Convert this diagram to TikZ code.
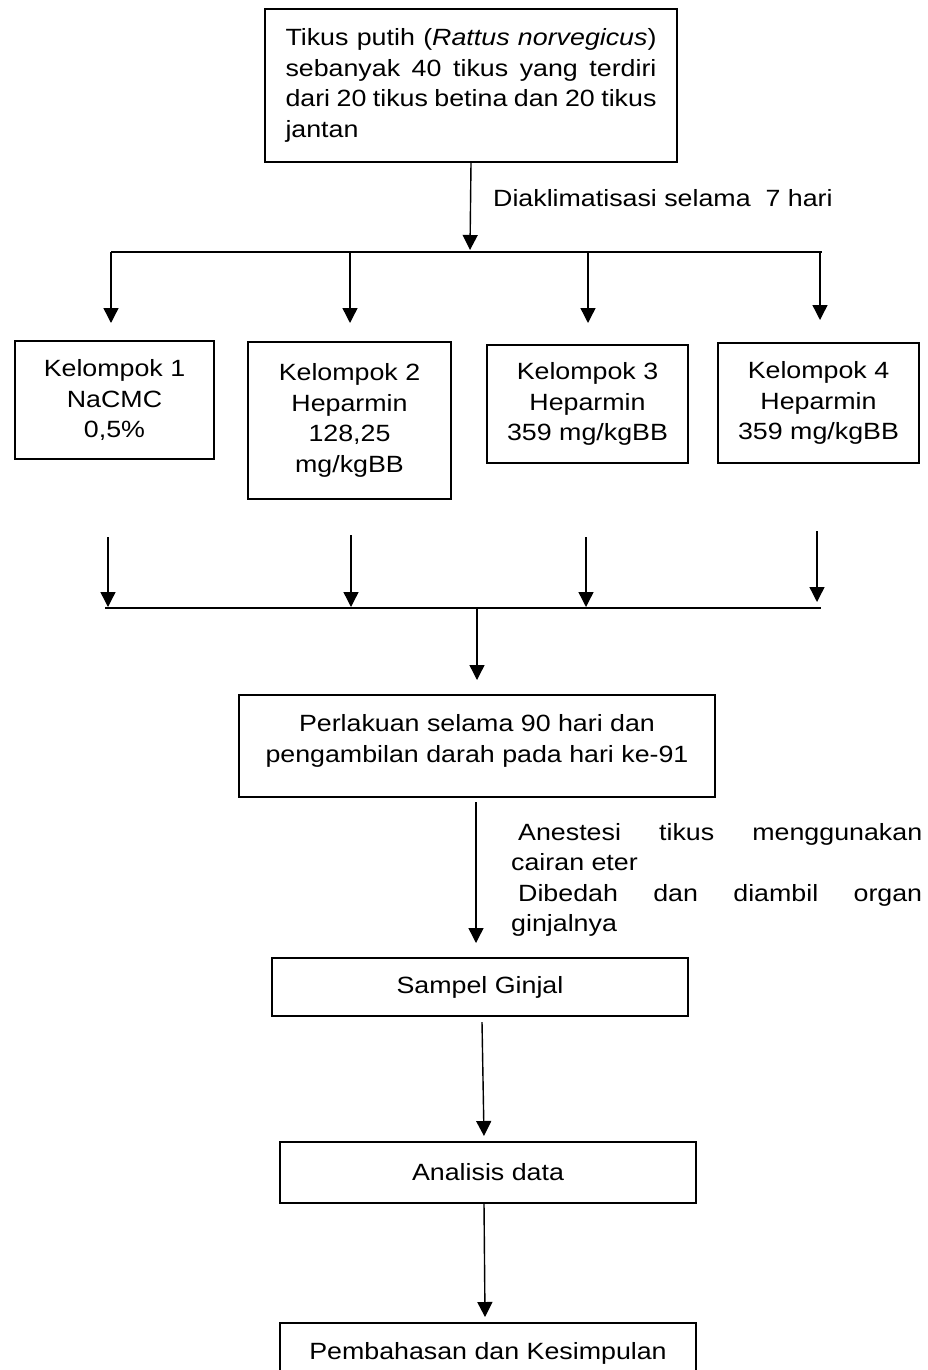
\documentclass[tikz,border=0pt]{standalone}
\usepackage{fontspec}
\setmainfont{Liberation Sans}[FakeStretch=1.14]
\usepackage{tikz}
\usetikzlibrary{arrows.meta}

\tikzset{
  box/.style={draw, line width=1.8pt, inner sep=0pt, align=center},
  flow/.style={line width=1.4pt, -{Triangle[length=15pt,width=15pt]}},
  bar/.style={line width=1.7pt}
}

\begin{document}
\begin{tikzpicture}[x=1pt, y=-1pt, font=\fontsize{23.5}{30.5}\selectfont]
\clip (0,0) rectangle (927,1370);
\fill[white] (0,0) rectangle (927,1370);

\node[box, minimum width=412, minimum height=153] at (471,85.5) (rats)
  {\parbox{371pt}{\makebox[371pt][s]{Tikus putih (\textit{Rattus norvegicus})}\\
   \makebox[371pt][s]{sebanyak 40 tikus yang terdiri}\\
   \makebox[371pt][s]{dari 20 tikus betina dan 20 tikus}\\
   jantan}};

\coordinate (split) at (470,250);
\coordinate (b1l) at (111,252);
\coordinate (b1r) at (822,252);

\draw[flow] (rats.south) -- (split);
\node[anchor=west, inner sep=0pt] at (493,198) (accl) {Diaklimatisasi selama\ \ 7 hari};
\draw[bar] (b1l) -- (b1r);

\coordinate (d1) at (111,252);
\coordinate (d2) at (350,252);
\coordinate (d3) at (588,252);
\coordinate (d4) at (820,252);
\coordinate (e1) at (111,323);
\coordinate (e2) at (350,323);
\coordinate (e3) at (588,323);
\coordinate (e4) at (820,320);
\draw[flow] (d1) -- (e1);
\draw[flow] (d2) -- (e2);
\draw[flow] (d3) -- (e3);
\draw[flow] (d4) -- (e4);

\node[box, minimum width=199, minimum height=118] at (114.5,400) (g1) {Kelompok 1\\NaCMC\\0,5\%};
\node[box, minimum width=203, minimum height=157] at (349.5,420.5) (g2) {Kelompok 2\\Heparmin\\128,25\\mg/kgBB};
\node[box, minimum width=201, minimum height=118] at (587.5,404) (g3) {Kelompok 3\\Heparmin\\359 mg/kgBB};
\node[box, minimum width=201, minimum height=120] at (818.5,403) (g4) {Kelompok 4\\Heparmin\\359 mg/kgBB};

\coordinate (f1) at (108,537);
\coordinate (f2) at (351,535);
\coordinate (f3) at (586,537);
\coordinate (f4) at (817,531);
\coordinate (h1) at (108,607);
\coordinate (h2) at (351,607);
\coordinate (h3) at (586,607);
\coordinate (h4) at (817,602);
\draw[flow] (f1) -- (h1);
\draw[flow] (f2) -- (h2);
\draw[flow] (f3) -- (h3);
\draw[flow] (f4) -- (h4);

\coordinate (b2l) at (105,608);
\coordinate (b2r) at (821,608);
\coordinate (join) at (477,608);
\coordinate (joinend) at (477,680);
\draw[bar] (b2l) -- (b2r);
\draw[flow] (join) -- (joinend);

\node[box, minimum width=476, minimum height=102, text height=17pt, text depth=46pt] at (477,746) (treat)
  {\parbox[t]{460pt}{\centering Perlakuan selama 90 hari dan\\pengambilan darah pada hari ke-91}};

\coordinate (treatend) at (476,943);
\draw[flow] (476,802) -- (treatend);
\node[anchor=north west, inner sep=0pt] at (511,823) (anest)
  {\parbox[t]{411pt}{\makebox[411pt][s]{\hspace{7pt}Anestesi\hfill tikus\hfill menggunakan}\\
   cairan eter\\
   \makebox[411pt][s]{\hspace{7pt}Dibedah\hfill dan\hfill diambil\hfill organ}\\
   ginjalnya}};

\node[box, minimum width=416, minimum height=58] at (480,987) (sample) {Sampel Ginjal};
\node[box, minimum width=416, minimum height=61] at (488,1172.5) (analysis) {Analisis data};
\node[box, minimum width=416, minimum height=60] at (488,1353) (concl) {Pembahasan dan Kesimpulan};

\coordinate (s1) at (482,1022);
\coordinate (s2) at (484,1136);
\draw[flow] (s1) -- (s2);
\coordinate (a2) at (485,1317);
\draw[flow] (484,1203) -- (a2);
\end{tikzpicture}
\end{document}
